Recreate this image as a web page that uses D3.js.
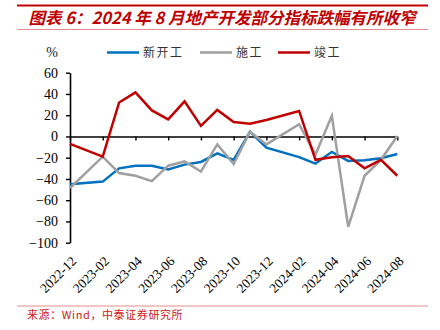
<!DOCTYPE html>
<html>
<head>
<meta charset="utf-8">
<script src="https://cdn.jsdelivr.net/npm/d3@7/dist/d3.min.js"></script>
<style>
  html, body { margin: 0; padding: 0; background: #fff; }
  svg { display: block; }
</style>
</head>
<body>
<svg id="chart" width="440" height="330"></svg>
<script>
// Monthly observations (Jan is merged into Feb, so no January rows)
const months = ["2022-12","2023-02","2023-03","2023-04","2023-05","2023-06","2023-07","2023-08","2023-09","2023-10","2023-11","2023-12","2024-02","2024-03","2024-04","2024-05","2024-06","2024-07","2024-08"];
const newStarts = [-45, -42.5, -30, -27.5, -27.5, -31, -26.5, -24, -16, -22, 4.5, -10.5, -19.5, -25.5, -14.5, -23, -22.5, -20.5, -16.5];
const underConstruction = [-48.5, -19, -34.5, -37, -42, -27.5, -23.5, -33, -7.5, -26, 4.5, -7.5, 11.5, -17, 19.5, -85, -37, -22, 0.5];
const completions = [-7, -19, 32, 41.5, 24.5, 16, 33, 10, 25, 13.5, 12, 15.5, 24, -22, -19.5, -18.5, -30, -22, -37];

const seriesNames = ["新开工", "施工", "竣工"];
const seriesColors = ["#0070c0", "#a0a0a0", "#c00000"];
const xTickLabels = ["2022-12","2023-02","2023-04","2023-06","2023-08","2023-10","2023-12","2024-02","2024-04","2024-06","2024-08"];
const yTicks = [-100, -80, -60, -40, -20, 0, 20, 40, 60];

const titleText = "图表 6：2024 年 8 月地产开发部分指标跌幅有所收窄";
const sourceText = "来源：Wind，中泰证券研究所";

const svg = d3.select("#chart");

// month string -> running month index so every month gets equal width
const monthIndex = s => { const [yy, mm] = s.split("-").map(Number); return yy * 12 + (mm - 1); };

const plot = { left: 70, right: 397.3, top: 72.7, bottom: 242.7 };

const x = d3.scaleLinear()
  .domain([monthIndex(months[0]), monthIndex(months[months.length - 1])])
  .range([plot.left, plot.right]);
const y = d3.scaleLinear().domain([-100, 60]).range([plot.bottom, plot.top]);

// Header rules and title
svg.append("line").attr("x1", 17).attr("x2", 428).attr("y1", 5.5).attr("y2", 5.5)
  .attr("stroke", "#c00000").attr("stroke-width", 2);
svg.append("line").attr("x1", 17).attr("x2", 428).attr("y1", 29.5).attr("y2", 29.5)
  .attr("stroke", "#e07070").attr("stroke-width", 0.8);
svg.append("text")
  .attr("x", 222).attr("y", 24)
  .attr("text-anchor", "middle")
  .attr("font-family", "'Noto Sans CJK SC', sans-serif")
  .attr("font-size", 16.5).attr("font-weight", "bold").attr("font-style", "italic")
  .attr("fill", "#c00000")
  .text(titleText);

// Legend
svg.append("text").attr("x", 52).attr("y", 57)
  .attr("text-anchor", "middle")
  .attr("font-family", "'Liberation Serif', serif").attr("font-size", 14)
  .attr("fill", "#222").text("%");

const legendX = [107, 200, 278];
seriesNames.forEach((name, i) => {
  const g = svg.append("g").attr("transform", `translate(${legendX[i]},52.5)`);
  g.append("line").attr("x1", 0).attr("x2", 32).attr("y1", 0).attr("y2", 0)
    .attr("stroke", seriesColors[i]).attr("stroke-width", 2.5);
  g.append("text").attr("x", 36).attr("y", 4.5)
    .attr("font-family", "'Noto Sans CJK SC', sans-serif").attr("font-size", 12)
    .attr("letter-spacing", 1.5)
    .attr("fill", "#333").text(name);
});

// Y axis
const yAxis = svg.append("g").attr("transform", `translate(${plot.left},0)`)
  .call(d3.axisLeft(y).tickValues(yTicks).tickSize(4).tickSizeOuter(0).tickPadding(8));
yAxis.select(".domain").attr("stroke", "#000").attr("stroke-width", 1.6);
yAxis.selectAll(".tick line").attr("stroke", "#000").attr("stroke-width", 1.4);
yAxis.selectAll(".tick text")
  .attr("font-family", "'Liberation Serif', serif").attr("font-size", 14).attr("fill", "#000");

// X axis along zero line, ticks only
const xTickVals = xTickLabels.map(monthIndex);
const xAxis = svg.append("g").attr("transform", `translate(0,${y(0)})`)
  .call(d3.axisBottom(x).tickValues(xTickVals).tickSize(4).tickSizeOuter(0).tickFormat(""));
xAxis.select(".domain").attr("stroke", "#000").attr("stroke-width", 1.6);
xAxis.selectAll(".tick line").attr("stroke", "#000").attr("stroke-width", 1.4);

// Rotated month labels under the plot
svg.append("g").selectAll("text").data(xTickLabels).join("text")
  .attr("transform", d => `translate(${x(monthIndex(d)) + 4},${plot.bottom + 16}) rotate(-45)`)
  .attr("text-anchor", "end")
  .attr("dy", "0.35em")
  .attr("font-family", "'Liberation Serif', serif").attr("font-size", 13.5)
  .attr("fill", "#000")
  .text(d => d);

// Series lines
const seriesValues = [newStarts, underConstruction, completions];
const line = d3.line()
  .x((d, i) => x(monthIndex(months[i])))
  .y(d => y(d));
seriesValues.forEach((vals, i) => {
  svg.append("path").datum(vals)
    .attr("d", line)
    .attr("fill", "none")
    .attr("stroke", seriesColors[i])
    .attr("stroke-width", 2.5)
    .attr("stroke-linejoin", "miter");
});

// Footer
svg.append("line").attr("x1", 17).attr("x2", 428).attr("y1", 306).attr("y2", 306)
  .attr("stroke", "#e07070").attr("stroke-width", 0.8);
svg.append("text").attr("x", 27).attr("y", 319)
  .attr("font-family", "'Noto Sans CJK SC', sans-serif").attr("font-size", 11)
  .attr("letter-spacing", 0.6)
  .attr("fill", "#d02020").text(sourceText);
</script>
</body>
</html>
